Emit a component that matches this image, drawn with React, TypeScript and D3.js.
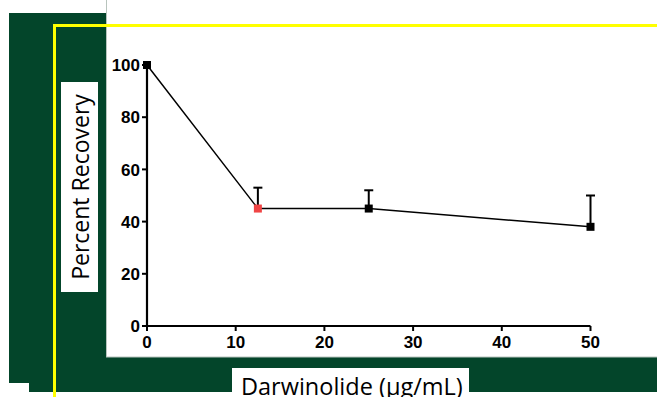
import React from 'react';
import * as d3 from 'd3';

// Darwinolide concentration (ug/mL) vs percent recovery
const concentrations = [0, 12.5, 25, 50];
const recovery = [100, 45, 45, 38];
const errorUpper = [null, 53, 52, 50];
const markerColors = ['#000', '#f04545', '#000', '#000'];
const xTicks = [0, 10, 20, 30, 40, 50];
const yTicks = [0, 20, 40, 60, 80, 100];

const W = 657;
const H = 397;
const green = '#03452a';

export default function App() {
  const x = d3.scaleLinear().domain([0, 50]).range([147, 590.5]);
  const y = d3.scaleLinear().domain([0, 100]).range([326, 65]);

  const pts = concentrations.map((c, i) => ({ c, v: recovery[i], e: errorUpper[i], col: markerColors[i] }));
  const line = d3.line<any>().x(d => x(d.c)).y(d => y(d.v));

  const tickFont = { fontFamily: 'Liberation Sans, Arial, sans-serif', fontWeight: 700, fontSize: 17 };

  return (
    <svg width={W} height={H} style={{ position: 'absolute', left: 0, top: 0, background: '#fff' }}>
      {/* green backdrop */}
      <rect x={9} y={13} width={98} height={370} fill={green} />
      <rect x={29} y={357} width={W - 29} height={35} fill={green} />
      {/* white plot panel */}
      <rect x={106.5} y={-2} width={W} height={359} fill="#fff" stroke="#b8c4bd" strokeWidth={1} />

      {/* yellow guide lines */}
      <line x1={54.5} y1={25.5} x2={W} y2={25.5} stroke="#ffff00" strokeWidth={3} />
      <line x1={54.5} y1={24} x2={54.5} y2={H} stroke="#ffff00" strokeWidth={3} />

      {/* y label */}
      <rect x={61} y={82} width={37} height={210} fill="#fff" />
      <text
        transform={`translate(89,187) rotate(-90)`}
        textAnchor="middle"
        style={{ fontFamily: 'Open Sans, sans-serif', fontSize: 23 }}
        fill="#000"
      >
        Percent Recovery
      </text>

      {/* x label */}
      <rect x={232} y={368} width={237} height={40} fill="#fff" />
      <text x={241} y={395} style={{ fontFamily: 'Open Sans, sans-serif', fontSize: 23.5 }} fill="#000">
        Darwinolide (µg/mL)
      </text>

      {/* axes */}
      <line x1={x(0)} y1={y(0)} x2={x(50)} y2={y(0)} stroke="#000" strokeWidth={2} />
      <line x1={x(0)} y1={y(0) + 1} x2={x(0)} y2={y(100)} stroke="#000" strokeWidth={2.2} />
      {yTicks.map(t => (
        <g key={'y' + t}>
          <line x1={x(0) - 5} x2={x(0)} y1={y(t)} y2={y(t)} stroke="#000" strokeWidth={2} />
          <text x={x(0) - 7} y={y(t)} dy="0.36em" textAnchor="end" style={tickFont}>{t}</text>
        </g>
      ))}
      {xTicks.map(t => (
        <g key={'x' + t}>
          <line x1={x(t)} x2={x(t)} y1={y(0)} y2={y(0) + 5} stroke="#000" strokeWidth={2} />
          <text x={x(t)} y={y(0) + 22} textAnchor="middle" style={tickFont}>{t}</text>
        </g>
      ))}

      {/* error bars */}
      {pts.filter(p => p.e != null).map(p => (
        <g key={'e' + p.c} stroke="#000" strokeWidth={2}>
          <line x1={x(p.c)} x2={x(p.c)} y1={y(p.v)} y2={y(p.e as number)} />
          <line x1={x(p.c) - 4.5} x2={x(p.c) + 4.5} y1={y(p.e as number)} y2={y(p.e as number)} />
        </g>
      ))}

      {/* data line */}
      <path d={line(pts) as string} fill="none" stroke="#000" strokeWidth={1.5} />

      {/* markers */}
      {pts.map(p => (
        <rect key={'m' + p.c} x={x(p.c) - 4} y={y(p.v) - 4} width={8} height={8} fill={p.col} />
      ))}
    </svg>
  );
}
